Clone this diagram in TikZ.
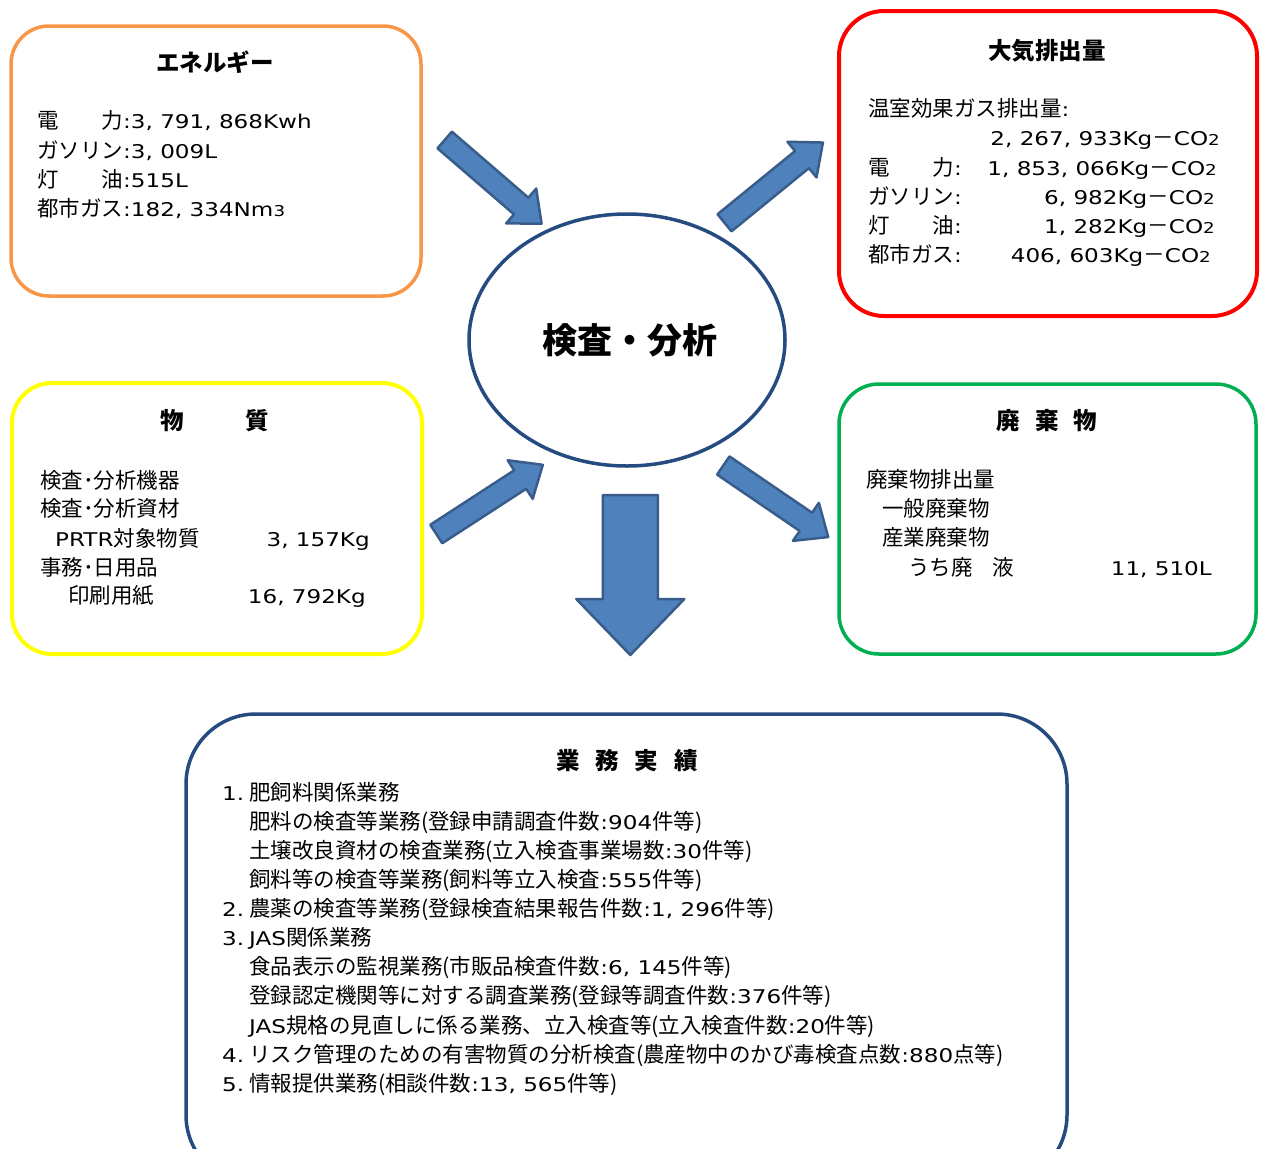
\documentclass[tikz,border=0pt]{standalone}
\usepackage{fontspec}
\setmainfont{Noto Sans CJK JP}
\newfontfamily\lat{DejaVu Sans}[Scale=0.88,FakeStretch=1.22]
\usetikzlibrary{shapes.geometric}
\definecolor{eorange}{HTML}{F79646}
\definecolor{ered}{HTML}{FF0000}
\definecolor{eyellow}{HTML}{FFFF00}
\definecolor{egreen}{HTML}{00B050}
\definecolor{enavy}{HTML}{264B80}
\definecolor{afill}{HTML}{4F81BD}
\definecolor{aline}{HTML}{385D8A}
\newcommand\lbl[1]{\makebox[86pt][s]{#1}}
\newcommand\smd[1]{{\fontsize{17pt}{17pt}\selectfont #1}}
\newcommand\blockarrow[7]{% x, y, angle, length, shaft, headw, headlen
  \begin{scope}[shift={(#1,#2)}, rotate=#3]
    \filldraw[blk] (0,{-#5/2}) -- ({#4-#7},{-#5/2}) -- ({#4-#7},{-#6/2}) -- (#4,0)
      -- ({#4-#7},{#6/2}) -- ({#4-#7},{#5/2}) -- (0,{#5/2}) -- cycle;
  \end{scope}}
\begin{document}
\begin{tikzpicture}[x=1pt,y=-1pt,
  panel/.style={draw, line width=3.5pt, fill=white, inner sep=0pt, outer sep=0pt},
  body/.style={font=\fontsize{21.5pt}{26pt}\selectfont, inner sep=0pt, anchor=base west},
  bodyr/.style={font=\fontsize{21.5pt}{26pt}\selectfont, inner sep=0pt, anchor=base east},
  ttl/.style={font=\fontsize{23.5pt}{28pt}\selectfont\bfseries, inner sep=0pt, anchor=base},
  blk/.style={fill=afill, draw=aline, line width=2.5pt, line join=round}]
\useasboundingbox (0,0) rectangle (1262,1149);
\fill[white] (0,0) rectangle (1262,1149);
\clip (0,0) rectangle (1262,1149);

% panels
\node[panel, draw=eorange, rounded corners=38pt, minimum width=410pt, minimum height=270pt] (energy) at (216,161) {};
\node[panel, draw=ered, line width=4pt, rounded corners=45pt, minimum width=418pt, minimum height=305pt] (air) at (1048,163.5) {};
\node[panel, draw=eyellow, line width=4pt, rounded corners=40pt, minimum width=410pt, minimum height=271pt] (matter) at (217,518.5) {};
\node[panel, draw=egreen, rounded corners=40pt, minimum width=417pt, minimum height=270pt] (waste) at (1047.5,519) {};
\node[panel, draw=enavy, rounded corners=70pt, minimum width=881pt, minimum height=471pt] (perf) at (626.5,949.5) {};

% centre ellipse
\node[ellipse, draw=enavy, line width=3.5pt, fill=white, minimum width=316pt, minimum height=252pt, inner sep=0pt] (core) at (627,340) {};
\node[font=\fontsize{35pt}{40pt}\selectfont\bfseries, inner sep=0pt, anchor=base] (coretxt) at (630,353) {検査・分析};

% block arrows
\blockarrow{444.7}{140}{-40.8}{128}{22}{46}{27}
\blockarrow{724.5}{222.8}{39.2}{127}{22}{46}{27}
\blockarrow{436.3}{534}{33.0}{127}{22}{46}{27}
\blockarrow{723.3}{465.5}{-34.3}{127}{22}{46}{27}
\blockarrow{630.3}{495}{-90}{160}{55}{108}{56}

% energy
\node[ttl] (eT) at (215,71) {エネルギー};
\node[body] (e1) at (37,128) {\lbl{電\hfill 力}{\lat :3, 791, 868Kwh}};
\node[body] (e2) at (37,158) {\lbl{ガ\hfill ソ\hfill リ\hfill ン}{\lat :3, 009L}};
\node[body] (e3) at (37,187) {\lbl{灯\hfill 油}{\lat :515L}};
\node[body] (e4) at (37,216) {\lbl{都\hfill 市\hfill ガ\hfill ス}{\lat :182, 334Nm\smd{3}}};

% air emissions
\node[ttl] (aT) at (1047,59) {大気排出量};
\node[body] (a0) at (868,116) {温室効果ガス排出量{\lat :}};
\node[bodyr] (a1) at (1220,145) {{\lat 2, 267, 933Kg}－{\lat CO\smd{2}}};
\node[body] (a2l) at (868,175) {\lbl{電\hfill 力}{\lat :}};
\node[bodyr] (a2) at (1217,175) {{\lat 1, 853, 066Kg}－{\lat CO\smd{2}}};
\node[body] (a3l) at (868,204) {\lbl{ガ\hfill ソ\hfill リ\hfill ン}{\lat :}};
\node[bodyr] (a3) at (1215,204) {{\lat 6, 982Kg}－{\lat CO\smd{2}}};
\node[body] (a4l) at (868,233) {\lbl{灯\hfill 油}{\lat :}};
\node[bodyr] (a4) at (1215,233) {{\lat 1, 282Kg}－{\lat CO\smd{2}}};
\node[body] (a5l) at (868,262) {\lbl{都\hfill 市\hfill ガ\hfill ス}{\lat :}};
\node[bodyr] (a5) at (1211,262) {{\lat 406, 603Kg}－{\lat CO\smd{2}}};

% matter
\node[ttl] (mT) at (215,429) {物\hspace{62pt}質};
\node[body] (m1) at (40,488) {検査･分析機器};
\node[body] (m2) at (40,516) {検査･分析資材};
\node[body] (m3) at (55,546) {{\lat PRTR}対象物質};
\node[bodyr] (m3v) at (370,546) {\lat 3, 157Kg};
\node[body] (m4) at (40,575) {事務･日用品};
\node[body] (m5) at (68,603) {印刷用紙};
\node[bodyr] (m5v) at (366,603) {\lat 16, 792Kg};

% waste
\node[ttl] (wT) at (1047,429) {廃\hspace{15pt}棄\hspace{15pt}物};
\node[body] (w1) at (866,487) {廃棄物排出量};
\node[body] (w2) at (882,516) {一般廃棄物};
\node[body] (w3) at (882,545) {産業廃棄物};
\node[body] (w4) at (908,575) {うち廃\hspace{20pt}液};
\node[bodyr] (w4v) at (1212,575) {\lat 11, 510L};

% performance
\node[ttl] (pT) at (627,769) {業\hspace{16pt}務\hspace{16pt}実\hspace{16pt}績};
\node[body] (p1) at (222,800) {\makebox[27pt][l]{\lat 1.}肥飼料関係業務};
\node[body] (p1a) at (249,829) {肥料の検査等業務(登録申請調査件数{\lat :904}件等)};
\node[body] (p1b) at (249,858) {土壌改良資材の検査業務(立入検査事業場数{\lat :30}件等)};
\node[body] (p1c) at (249,887) {飼料等の検査等業務(飼料等立入検査{\lat :555}件等)};
\node[body] (p2) at (222,916) {\makebox[27pt][l]{\lat 2.}農薬の検査等業務(登録検査結果報告件数{\lat :1, 296}件等)};
\node[body] (p3) at (222,945) {\makebox[27pt][l]{\lat 3.}{\lat JAS}関係業務};
\node[body] (p3a) at (249,974) {食品表示の監視業務(市販品検査件数{\lat :6, 145}件等)};
\node[body] (p3b) at (249,1003) {登録認定機関等に対する調査業務(登録等調査件数{\lat :376}件等)};
\node[body] (p3c) at (249,1033) {{\lat JAS}規格の見直しに係る業務、立入検査等(立入検査件数{\lat :20}件等)};
\node[body] (p4) at (222,1062) {\makebox[27pt][l]{\lat 4.}リスク管理のための有害物質の分析検査(農産物中のかび毒検査点数{\lat :880}点等)};
\node[body] (p5) at (222,1091) {\makebox[27pt][l]{\lat 5.}情報提供業務(相談件数{\lat :13, 565}件等)};
\end{tikzpicture}
\end{document}
